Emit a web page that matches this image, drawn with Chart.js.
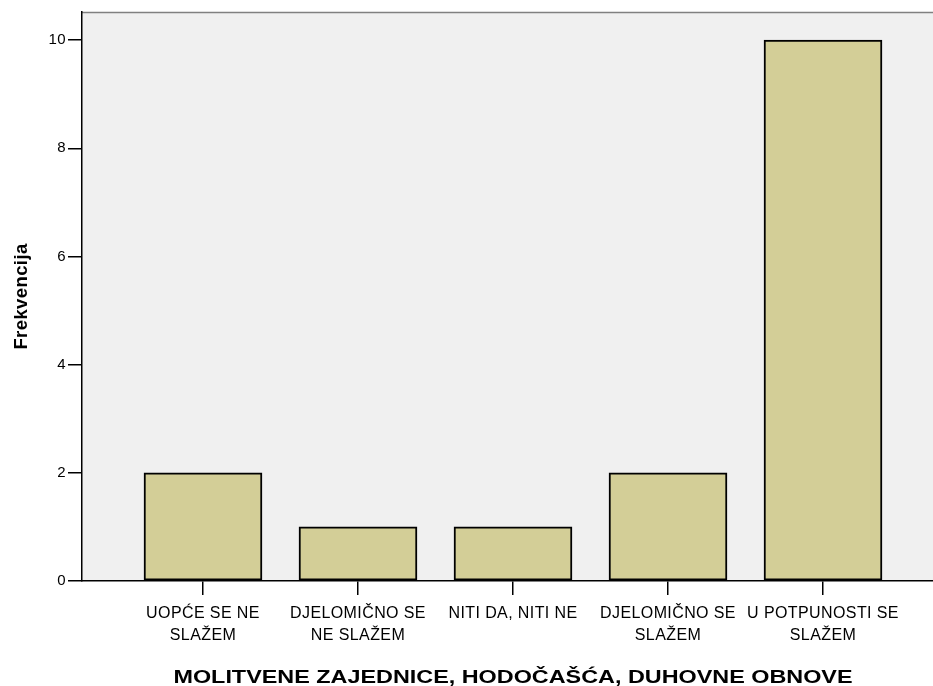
<!DOCTYPE html>
<html>
<head>
<meta charset="utf-8">
<script src="https://cdn.jsdelivr.net/npm/chart.js@4/dist/chart.umd.min.js"></script>
<style>
html,body{margin:0;padding:0;background:#fff;overflow:hidden;width:933px;height:686px;}
canvas{display:block;}
</style>
</head>
<body>
<canvas id="c" width="944" height="686"></canvas>
<script>
const categories = [
  ["UOPĆE SE NE", "SLAŽEM"],
  ["DJELOMIČNO SE", "NE SLAŽEM"],
  ["NITI DA, NITI NE"],
  ["DJELOMIČNO SE", "SLAŽEM"],
  ["U POTPUNOSTI SE", "SLAŽEM"]
];
const counts = [2, 1, 1, 2, 10];
const yTicks = [0, 2, 4, 6, 8, 10];
const xTitle = "MOLITVENE ZAJEDNICE, HODOČAŠĆA, DUHOVNE OBNOVE";
const yTitle = "Frekvencija";

const FONT = "'Liberation Sans', Arial, sans-serif";

const bgPlugin = {
  id: 'bg',
  beforeDraw(chart) {
    const {ctx, chartArea: a} = chart;
    ctx.save();
    ctx.fillStyle = '#F0F0F0';
    ctx.fillRect(a.left, a.top, a.right - a.left, a.bottom - a.top);
    ctx.strokeStyle = '#808080';
    ctx.lineWidth = 1.5;
    ctx.beginPath();
    ctx.moveTo(a.left, a.top + 0.5);
    ctx.lineTo(a.right, a.top + 0.5);
    ctx.stroke();
    ctx.restore();
    ctx.letterSpacing = '0.4px';
  },
  afterDraw(chart) {
    const {ctx, chartArea: a} = chart;
    ctx.letterSpacing = '0px';
    ctx.save();
    ctx.fillStyle = '#000';
    ctx.font = "bold 19px " + FONT;
    ctx.textAlign = 'center';
    ctx.textBaseline = 'alphabetic';
    ctx.translate((a.left + a.right) / 2, 683);
    ctx.scale(1.23, 1);
    ctx.fillText(xTitle, 0, 0);
    ctx.restore();
  }
};

new Chart(document.getElementById('c'), {
  type: 'bar',
  data: {
    datasets: [{
      data: counts.map((v, i) => ({x: i, y: v})),
      backgroundColor: '#D3CE97',
      borderColor: '#000000',
      borderWidth: 2,
      barThickness: 118,
      borderSkipped: false
    }]
  },
  options: {
    responsive: false,
    animation: false,
    layout: {padding: {top: 12, right: 0, bottom: 0, left: 0}},
    plugins: {legend: {display: false}, tooltip: {enabled: false}},
    scales: {
      x: {
        type: 'linear',
        offset: false,
        min: -0.7806,
        max: 4.7806,
        afterBuildTicks(s) { s.ticks = categories.map((c, i) => ({value: i})); },
        afterFit(s) { s.height = 105; },
        grid: {offset: false, drawOnChartArea: false, drawTicks: true, tickLength: 14, color: '#000', lineWidth: 1.5},
        border: {display: true, color: '#000', width: 1.5},
        ticks: {
          autoSkip: false,
          maxRotation: 0,
          minRotation: 0,
          padding: 8,
          color: '#000',
          font: {family: FONT, size: 16, lineHeight: '22px'},
          callback: (v) => categories[v]
        },
        title: {display: false}
      },
      y: {
        min: 0,
        max: 10.52,
        afterBuildTicks(s) { s.ticks = yTicks.map(v => ({value: v})); },
        afterFit(s) { s.width = 82; },
        grid: {drawOnChartArea: false, drawTicks: true, tickLength: 14, color: '#000', lineWidth: 1.5},
        border: {display: true, color: '#000', width: 1.5},
        ticks: {
          padding: 2,
          color: '#000',
          font: {family: FONT, size: 15}
        },
        title: {
          display: true,
          text: yTitle,
          color: '#000',
          font: {family: FONT, size: 18.5, weight: 'bold', lineHeight: 1.2},
          padding: {top: 11, bottom: 0}
        }
      }
    }
  },
  plugins: [bgPlugin]
});
</script>
</body>
</html>
